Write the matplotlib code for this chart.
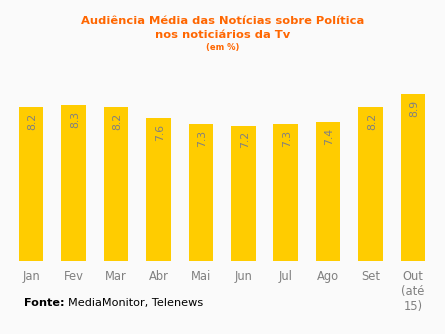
import matplotlib
matplotlib.use("Agg")
import matplotlib.pyplot as plt

meses = ["Jan", "Fev", "Mar", "Abr", "Mai", "Jun", "Jul", "Ago", "Set", "Out\n(até\n15)"]
audiencia = [8.2, 8.3, 8.2, 7.6, 7.3, 7.2, 7.3, 7.4, 8.2, 8.9]

fundo = "#fafafa"
amarelo = "#ffcc00"
laranja = "#ff6600"
cinza = "#808080"

fig = plt.figure(figsize=(4.45, 3.34), dpi=100, facecolor=fundo)
ax = fig.add_axes([0.022, 0.2195, 0.954, 0.505])
ax.set_facecolor(fundo)

x = range(len(meses))
barras = ax.bar(x, audiencia, width=0.58, color=amarelo)

# valor escrito na vertical, logo abaixo do topo de cada barra
for xi, v in zip(x, audiencia):
    ax.annotate(f"{v:.1f}", (xi, v), xytext=(1, -4), textcoords="offset points",
                rotation=90, ha="center", va="top", fontsize=7.8, color=cinza)

ax.set_xlim(-0.5, 9.5)
ax.set_ylim(0, 9.0)
ax.set_xticks(list(x))
ax.set_xticklabels(meses, fontsize=8.3, color=cinza, va="top", linespacing=1.2)
ax.tick_params(axis="x", length=0, pad=6.5)
ax.set_yticks([])
for s in ax.spines.values():
    s.set_visible(False)

fig.text(0.5, 0.937, "Audiência Média das Notícias sobre Política",
         ha="center", va="center", fontsize=8.25, fontweight="bold", color=laranja)
fig.text(0.5, 0.895, "nos noticiários da Tv",
         ha="center", va="center", fontsize=8.25, fontweight="bold", color=laranja)
fig.text(0.5, 0.859, "(em %)",
         ha="center", va="center", fontsize=6, fontweight="bold", color=laranja)

t = fig.text(0.054, 0.093, "Fonte:", ha="left", va="center", fontsize=8.1,
             fontweight="bold", color="black")
fig.canvas.draw()
bb = t.get_window_extent()
fig.text(bb.x1 / fig.bbox.width + 0.008, 0.093, "MediaMonitor, Telenews",
         ha="left", va="center", fontsize=8.1, color="black")

fig.savefig("out.png", dpi=100, facecolor=fundo)
